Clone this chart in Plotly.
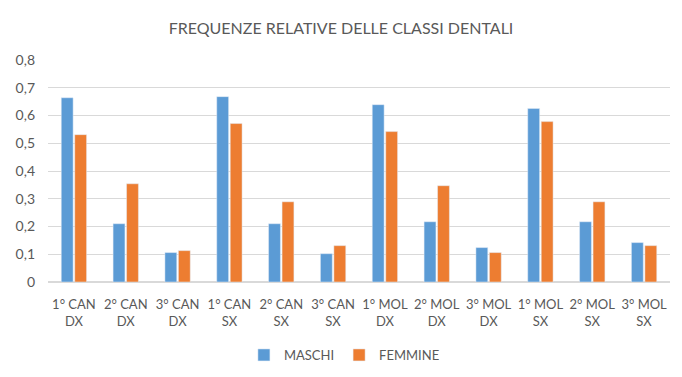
import plotly.graph_objects as go

categories = ["1° CAN<br>DX", "2° CAN<br>DX", "3° CAN<br>DX", "1° CAN<br>SX", "2° CAN<br>SX", "3° CAN<br>SX",
              "1° MOL<br>DX", "2° MOL<br>DX", "3° MOL<br>DX", "1° MOL<br>SX", "2° MOL<br>SX", "3° MOL<br>SX"]
maschi = [0.664, 0.210, 0.106, 0.668, 0.210, 0.102, 0.639, 0.217, 0.124, 0.625, 0.217, 0.142]
femmine = [0.531, 0.354, 0.113, 0.571, 0.289, 0.131, 0.542, 0.347, 0.106, 0.578, 0.289, 0.131]
tick_vals = [0, 0.1, 0.2, 0.3, 0.4, 0.5, 0.6, 0.7, 0.8]
tick_text = ["0", "0,1", "0,2", "0,3", "0,4", "0,5", "0,6", "0,7", "0,8"]

fig = go.Figure()
fig.add_trace(go.Bar(x=categories, y=maschi, name="MASCHI", marker_color="#5B9BD5"))
fig.add_trace(go.Bar(x=categories, y=femmine, name="FEMMINE", marker_color="#ED7D31"))

fig.update_layout(
    width=682, height=377,
    paper_bgcolor="white", plot_bgcolor="white",
    font=dict(family="Lato", size=14, color="#595959"),
    title=dict(text="FREQUENZE RELATIVE DELLE CLASSI DENTALI", x=0.5, xanchor="center",
               y=1 - 28 / 377, yanchor="middle", font=dict(size=16, color="#595959")),
    margin=dict(l=48, r=12, t=60, b=95, autoexpand=False),
    barmode="group", bargap=0.48, bargroupgap=0.12,
    legend=dict(orientation="h", x=0.505, xanchor="center", xref="container",
                y=1 - 355 / 377, yanchor="middle", yref="container",
                font=dict(size=13, color="#595959"), itemwidth=30, traceorder="normal"),
    showlegend=True,
)
fig.update_yaxes(range=[0, 0.8], tickvals=tick_vals, ticktext=tick_text, showgrid=True,
                 gridcolor="#D9D9D9", gridwidth=1, zeroline=True, zerolinecolor="#D9D9D9",
                 showline=False, ticks="", tickfont=dict(size=14), ticklabelstandoff=12)
fig.update_xaxes(showline=False, ticks="", tickangle=0, tickfont=dict(size=13), ticklabelstandoff=13)

fig.write_html("out.html", config={"displayModeBar": False},
               post_script="document.body.style.margin='0';")
